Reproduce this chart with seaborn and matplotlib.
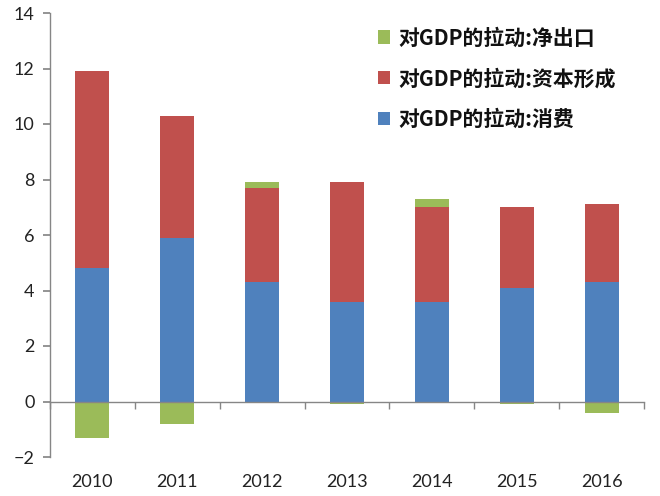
import matplotlib
matplotlib.use("Agg")
import matplotlib.pyplot as plt
import seaborn as sns
import numpy as np
import pandas as pd
from matplotlib.patches import Patch
from matplotlib.ticker import MultipleLocator, FixedLocator

years = ["2010", "2011", "2012", "2013", "2014", "2015", "2016"]
consumption = [4.8, 5.9, 4.3, 3.6, 3.6, 4.1, 4.3]
capital = [7.1, 4.4, 3.4, 4.3, 3.4, 2.9, 2.8]
net_exports = [-1.3, -0.8, 0.2, -0.08, 0.3, -0.08, -0.4]

labels = ["对GDP的拉动:净出口", "对GDP的拉动:资本形成", "对GDP的拉动:消费"]
colors = ["#9BBB59", "#C0504D", "#4F81BD"]

sns.set_theme(style="white")
plt.rcParams['font.family'] = ['Lato', 'Noto Sans CJK SC', 'DejaVu Sans']

cons = np.array(consumption)
cap = np.array(capital)
ne = np.array(net_exports)
red_top = cons + cap
green_h = np.where(ne > 0, red_top + ne, ne)

df = pd.DataFrame({"year": years, "cons": cons, "red": red_top, "green": green_h})

fig = plt.figure(figsize=(6.6, 4.96), dpi=100)
ax = fig.add_axes([50/660, 1 - 457/496, 594/660, 444/496])

sns.barplot(data=df, x="year", y="green", color=colors[0], width=0.4, ax=ax, saturation=1)
sns.barplot(data=df, x="year", y="red", color=colors[1], width=0.4, ax=ax, saturation=1)
sns.barplot(data=df, x="year", y="cons", color=colors[2], width=0.4, ax=ax, saturation=1)
for p in ax.patches:
    p.set_linewidth(0)

ax.set_ylim(-2, 14)
ax.set_xlim(-0.5, 6.5)
ax.yaxis.set_major_locator(MultipleLocator(2))
ax.set_xlabel("")
ax.set_ylabel("")

for s in ["top", "right"]:
    ax.spines[s].set_visible(False)
ax.spines["left"].set_color("#868686")
ax.spines["bottom"].set_color("#868686")
ax.spines["left"].set_linewidth(1)
ax.spines["bottom"].set_linewidth(1)
ax.spines["bottom"].set_position(("data", 0))

ax.set_xticks(range(len(years)))
ax.set_xticklabels(years)
ax.tick_params(axis="y", which="major", direction="out", length=5, color="#868686",
               left=True, labelsize=13, labelcolor="#222222", pad=6)
ax.tick_params(axis="x", which="major", length=0, labelsize=13, labelcolor="#222222", pad=52)
ax.xaxis.set_minor_locator(FixedLocator(np.arange(-0.5, 7.0, 1.0)))
ax.tick_params(axis="x", which="minor", direction="out", length=5, color="#868686", bottom=True)

handles = [Patch(facecolor=c, edgecolor="none") for c in colors]
leg = ax.legend(handles, labels, loc="upper left", bbox_to_anchor=(0.52, 1.01),
                frameon=False, handlelength=0.6, handleheight=0.6, handletextpad=0.4,
                labelspacing=0.95, prop={"family": ["Noto Sans CJK SC", "DejaVu Sans"],
                                         "weight": "bold", "size": 15})
for t in leg.get_texts():
    t.set_color("#111111")

fig.savefig("out.png", dpi=100)
